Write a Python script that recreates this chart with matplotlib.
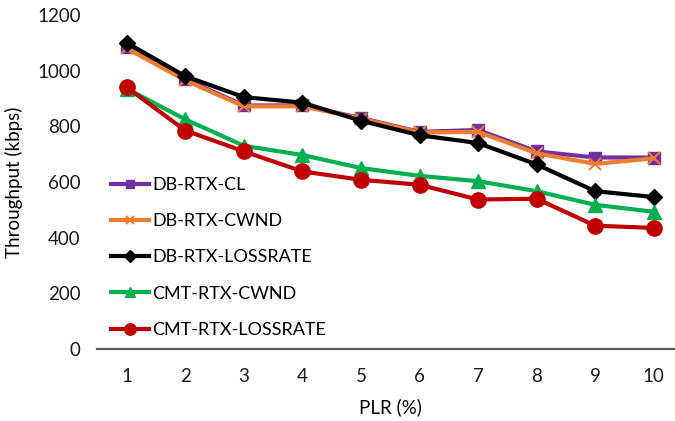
import numpy as np
import matplotlib.pyplot as plt

plt.rcParams['font.family'] = ['Lato', 'DejaVu Sans']

plr = [1, 2, 3, 4, 5, 6, 7, 8, 9, 10]

db_rtx_cl = [1085, 970, 875, 875, 830, 780, 787, 710, 688, 688]
db_rtx_cwnd = [1080, 965, 872, 872, 828, 778, 780, 703, 665, 685]
db_rtx_lossrate = [1100, 980, 905, 885, 820, 768, 740, 663, 567, 546]
cmt_rtx_cwnd = [935, 825, 730, 697, 650, 622, 603, 567, 518, 493]
cmt_rtx_lossrate = [940, 785, 710, 638, 608, 590, 537, 540, 443, 435]

fig = plt.figure(figsize=(6.75, 4.21), dpi=100)
ax = fig.add_axes([97.5 / 675, 72 / 421, (683 - 97.5) / 675, 334 / 421])

lw = 3
ax.plot(plr, db_rtx_cl, color='#7030A0', lw=lw, marker='s', ms=8, label='DB-RTX-CL')
ax.plot(plr, db_rtx_cwnd, color='#ED7D31', lw=lw, marker='x', ms=8, mew=1.5, label='DB-RTX-CWND')
ax.plot(plr, db_rtx_lossrate, color='black', lw=lw, marker='D', ms=8, label='DB-RTX-LOSSRATE')
ax.plot(plr, cmt_rtx_cwnd, color='#00B050', lw=lw, marker='^', ms=10, label='CMT-RTX-CWND')
ax.plot(plr, cmt_rtx_lossrate, color='#C00000', lw=lw, marker='o', ms=11, label='CMT-RTX-LOSSRATE')

ax.set_xlim(0.5, 10.5)
ax.set_ylim(0, 1200)
ax.set_xticks(plr)
ax.set_yticks(np.arange(0, 1201, 200))
ax.tick_params(length=0, labelsize=13.5, colors='#1a1a1a')
ax.tick_params(axis='x', pad=14)
ax.tick_params(axis='y', pad=12)
for s in ['top', 'right', 'left']:
    ax.spines[s].set_visible(False)
ax.spines['bottom'].set_color('#595959')
ax.spines['bottom'].set_linewidth(1.6)

ax.set_ylabel('Throughput (kbps)', fontsize=13.5, color='black', labelpad=10)
ax.set_xlabel('PLR (%)', fontsize=13.5, color='black', labelpad=9)

leg = ax.legend(loc='upper left', bbox_to_anchor=(102 / 675, 1 - 168 / 421),
                bbox_transform=fig.transFigure, frameon=False, fontsize=13,
                handlelength=2.1, handletextpad=0.2, labelspacing=1.12,
                borderpad=0, markerscale=0.75)

fig.savefig('out.png', dpi=100)
